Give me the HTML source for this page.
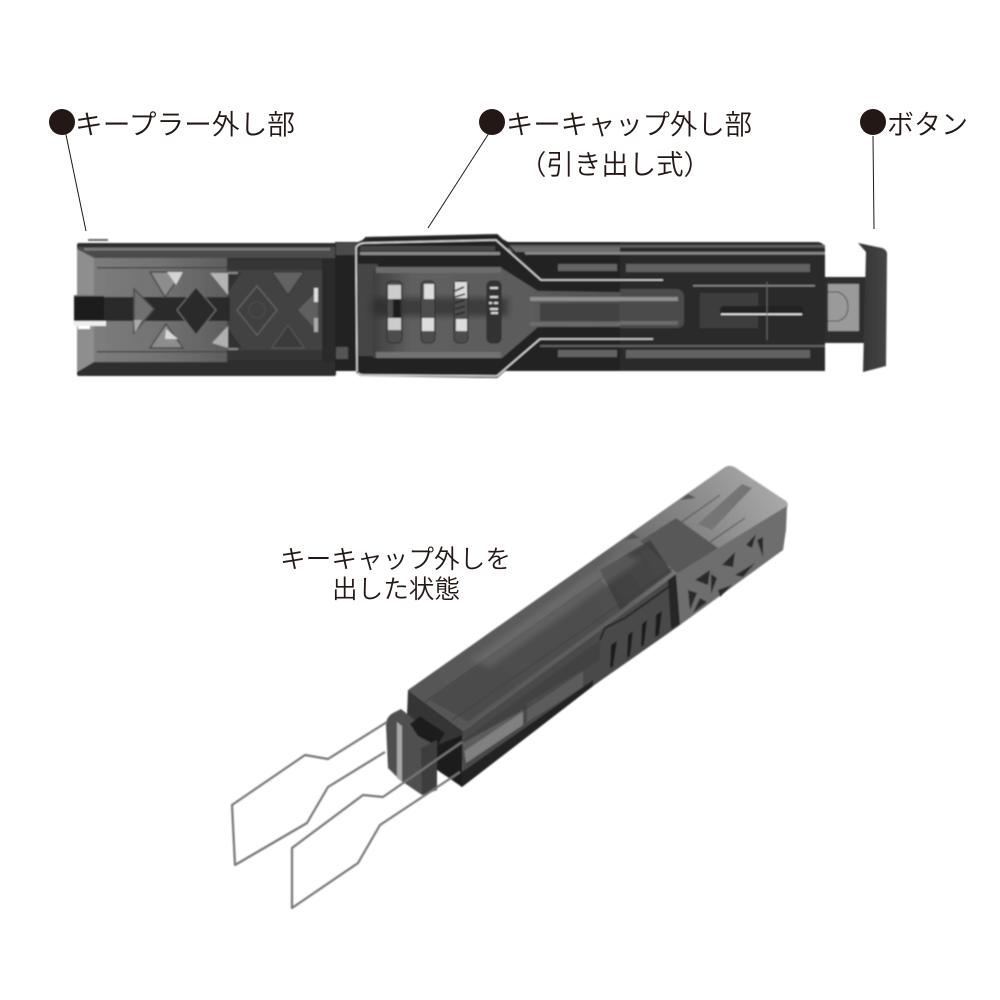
<!DOCTYPE html>
<html lang="ja"><head><meta charset="utf-8"><style>
html,body{margin:0;padding:0;background:#fff}
svg{display:block}
text{font-family:"Liberation Sans","Noto Sans CJK JP",sans-serif;font-weight:350;fill:#231815}
</style></head><body>
<svg width="1000" height="1000" viewBox="0 0 1000 1000" xmlns="http://www.w3.org/2000/svg">
<defs>
<filter id="b" x="-5%" y="-5%" width="110%" height="110%"><feGaussianBlur stdDeviation="0.7"/></filter>
<filter id="s" x="-20%" y="-20%" width="140%" height="140%"><feGaussianBlur stdDeviation="3"/></filter>
<linearGradient id="lp" x1="0" y1="0" x2="1" y2="0"><stop offset="0" stop-color="#7c7c7c"/><stop offset="0.5" stop-color="#727272"/><stop offset="1" stop-color="#5e5e5e"/></linearGradient>
<linearGradient id="mp" x1="0" y1="0" x2="1" y2="0"><stop offset="0" stop-color="#404040"/><stop offset="0.12" stop-color="#5e5e5e"/><stop offset="0.45" stop-color="#5c5c5c"/><stop offset="1" stop-color="#4e4e4e"/></linearGradient>
<linearGradient id="top" gradientUnits="userSpaceOnUse" x1="420" y1="710" x2="770" y2="480"><stop offset="0" stop-color="#565656"/><stop offset="0.55" stop-color="#5e5e5e"/><stop offset="0.72" stop-color="#7a7a7a"/><stop offset="1" stop-color="#a8a8a8"/></linearGradient>
<linearGradient id="cap" x1="0" y1="0" x2="1" y2="0"><stop offset="0" stop-color="#333"/><stop offset="1" stop-color="#454545"/></linearGradient>
</defs>

<!-- labels -->
<g fill="#231815"><circle cx="62" cy="122" r="13"/><circle cx="492" cy="122" r="13"/><circle cx="873" cy="122" r="13"/></g>
<g stroke="#231815" stroke-width="1" fill="none"><path d="M65 130L86 231"/><path d="M491 130L428 228"/><path d="M873 136L874 229"/></g>
<text x="75" y="134" font-size="27.4" textLength="220" lengthAdjust="spacingAndGlyphs">キープラー外し部</text>
<text x="506" y="134" font-size="27.4" textLength="246" lengthAdjust="spacingAndGlyphs">キーキャップ外し部</text>
<text x="519" y="174" font-size="27.4" textLength="192" lengthAdjust="spacingAndGlyphs">（引き出し式）</text>
<text x="887" y="134" font-size="27.4" textLength="81" lengthAdjust="spacingAndGlyphs">ボタン</text>
<text x="280" y="568" font-size="25.4" textLength="231" lengthAdjust="spacingAndGlyphs">キーキャップ外しを</text>
<text x="332" y="598" font-size="25.4" textLength="128" lengthAdjust="spacingAndGlyphs">出した状態</text>

<g filter="url(#b)">
<!-- TOP VIEW: left section -->
<rect x="88" y="239" width="20" height="2" fill="#666"/>
<rect x="77" y="243" width="259" height="133" rx="2" fill="#2e2e2e"/>
<rect x="77" y="247" width="259" height="11" fill="#4c4c4c"/>
<rect x="84" y="248" width="246" height="2.5" fill="#7c7c7c"/>
<path d="M77 249L94 258V362L77 372Z" fill="#8e8e8e"/>
<rect x="94" y="258" width="133" height="104" fill="url(#lp)"/>
<rect x="227" y="260" width="95" height="100" fill="#424242"/>
<rect x="227" y="260" width="95" height="10" fill="#343434"/>
<rect x="227" y="350" width="95" height="10" fill="#343434"/>
<rect x="322" y="258" width="14" height="104" fill="#2b2b2b"/>
<rect x="97" y="267" width="130" height="1.5" fill="#4a4a4a"/><rect x="97" y="351" width="130" height="1.5" fill="#4a4a4a"/>
<!-- notch and band -->
<rect x="74" y="296" width="30" height="25" fill="#1a1a1a"/>
<rect x="74" y="321" width="32" height="5" fill="#eee"/>
<rect x="78" y="326" width="12" height="3" fill="#fff"/>
<rect x="104" y="297" width="126" height="24" fill="#2c2c2c"/>
<rect x="74" y="295" width="60" height="1.2" fill="#777"/>
<!-- triangles left -->
<path d="M150 272L183 272L165 297Z" fill="#8d8d8d" stroke="#484848" stroke-width="1.4"/>
<path d="M167 272L183 272L176 285Z" fill="#d4d4d4"/>
<path d="M150 348L183 348L166 324Z" fill="#8d8d8d" stroke="#484848" stroke-width="1.4"/>
<path d="M166 329L178 339L165 339Z" fill="#d8d8d8"/>
<path d="M134 289L134 333L154 309Z" fill="#707070" stroke="#4a4a4a" stroke-width="1.4"/>
<path d="M134 320L142 320L135 333Z" fill="#aaa"/>
<path d="M210 273L228 273L228 295Z" fill="#b4b4b4"/>
<path d="M212 343L228 326L228 348Z" fill="#b0b0b0"/>
<path d="M196 287L216 310L196 335L177 310Z" fill="#2c2c2c" stroke="#6a6a6a" stroke-width="1.2"/>
<path d="M228 272L242 272L228 292ZM228 348L242 348L228 328Z" fill="#333"/>
<!-- right dark part pattern -->
<path d="M257 286L277 310L257 335L237 310Z" fill="#404040" stroke="#6c6c6c"/>
<circle cx="257" cy="310" r="8" fill="none" stroke="#4e4e4e"/>
<path d="M272 272L304 272L288 295Z" fill="#626262" stroke="#333"/>
<path d="M272 348L304 348L288 325Z" fill="#3a3a3a" stroke="#5c5c5c"/>
<path d="M318 290L318 332L298 310Z" fill="#5e5e5e"/>
<rect x="314" y="288" width="4" height="14" fill="#ddd"/><rect x="314" y="318" width="4" height="14" fill="#aaa"/>
<rect x="228" y="272" width="10" height="2" fill="#888"/><rect x="228" y="348" width="10" height="2" fill="#888"/>
<!-- middle body -->
<path d="M335 242H360L366 237L495 235L508 242H626V371H505L497 376H362L356 371H335Z" fill="#232323"/>
<rect x="336" y="243" width="22" height="12" fill="#4c4c4c"/>
<rect x="336" y="347" width="12" height="12" fill="#555"/>
<rect x="360" y="252" width="140" height="3" fill="#8a8a8a"/>
<rect x="360" y="246" width="135" height="5" fill="#444"/>
<rect x="358" y="264" width="20" height="92" fill="#444"/>
<path d="M373 272Q373 267 380 267L500 267L538 291L684 293V327L538 327L502 358L373 358Z" fill="url(#mp)"/>
<rect x="376" y="267" width="125" height="6" fill="#6c6c6c"/>
<rect x="376" y="352" width="125" height="6" fill="#727272"/>
<rect x="373" y="298" width="135" height="18" fill="#222" opacity=".55" filter="url(#s)"/>
<rect x="530" y="297" width="150" height="4" fill="#909090"/>
<rect x="540" y="303" width="130" height="18" fill="#424242"/>
<rect x="530" y="322" width="150" height="4" fill="#6c6c6c"/>
<rect x="676" y="293" width="8" height="35" rx="3" fill="#333"/>
<!-- slots -->
<g>
<rect x="387" y="281" width="15" height="62" rx="5" fill="#4e4e4e" stroke="#2c2c2c"/>
<rect x="421" y="281" width="14" height="62" rx="5" fill="#4e4e4e" stroke="#2c2c2c"/>
<rect x="454" y="281" width="14" height="62" rx="5" fill="#4e4e4e" stroke="#2c2c2c"/>
<rect x="487" y="281" width="14" height="62" rx="5" fill="#333" stroke="#2c2c2c"/>
<rect x="388" y="285" width="13" height="14" fill="#ccc"/><rect x="388" y="318" width="13" height="12" fill="#ccc"/>
<rect x="393" y="299" width="8" height="19" fill="#1c1c1c"/>
<rect x="424" y="284" width="10" height="15" fill="#ddd"/><rect x="422" y="318" width="12" height="13" fill="#ddd"/>
<rect x="455" y="282" width="12" height="16" fill="#ddd"/><rect x="456" y="319" width="11" height="12" fill="#ddd"/>
<path d="M455 291L464 287M455 297L465 294M455 303L465 300M455 309L465 306M455 315L465 312" stroke="#222" stroke-width="1.6"/>
<path d="M490 288h8M490 297h8M489 303h3M494 303h4M490 309h8M491 313h7" stroke="#ddd" stroke-width="2"/>
</g>
<!-- right side -->
<path d="M508 246H626V252H508ZM525 252H626V254H525Z" fill="#6c6c6c"/>
<path d="M620 242H818Q825 243 825 250V371H620Z" fill="#2b2b2b"/>
<rect x="510" y="245" width="315" height="2.5" fill="#5e5e5e"/>
<rect x="525" y="252" width="300" height="2.5" fill="#8a8a8a"/>
<rect x="558" y="264" width="59" height="7" fill="#646464"/>
<rect x="626" y="264" width="184" height="8" fill="#626262"/>
<rect x="558" y="350" width="59" height="7" fill="#646464"/>
<rect x="626" y="350" width="184" height="8" fill="#626262"/>
<rect x="540" y="345" width="285" height="2" fill="#606060"/>
<path d="M620 289H676Q684 289 684 298V322Q684 328 676 328H620Z" fill="#4c4c4c"/>
<rect x="620" y="297" width="58" height="4" fill="#909090"/>
<rect x="620" y="321" width="58" height="4" fill="#6c6c6c"/>
<rect x="693" y="285" width="122" height="1.5" fill="#8a8a8a"/>
<path d="M700 293H758V328H700Z" fill="#3c3c3c"/>
<rect x="720" y="306" width="83" height="10" rx="3" fill="#242424"/>
<rect x="721" y="313.5" width="81" height="1.6" fill="#eee"/>
<path d="M767 282V340" stroke="#666" fill="none"/>
<!-- button -->
<rect x="825" y="277" width="42" height="66" fill="#2e2e2e"/>
<rect x="828" y="284" width="31" height="47" fill="#9a9a9a"/>
<path d="M828 292H838Q848 296 848 307Q848 318 838 321H828" fill="none" stroke="#555"/>
<path d="M858 243L882 248Q888 250 887 256L886 366L863 372L866 252Z" fill="url(#cap)"/>

<!-- middle wire -->
<path d="M365 238L497 235L541 278H663M357 373L356 248Q357 242 364 241L496 240L541 282H663M358 373Q360 375 364 375L497 377L540 338H653" fill="none" stroke="#262626" stroke-width="2"/>
<path d="M357 372L356 248Q357 244 364 243L496 240L541 280H663M358 373Q360 375 364 375L497 376L540 339H653" fill="none" stroke="#dcdcdc" stroke-width="1.5"/>

<!-- LOWER OBJECT -->
<!-- top face -->
<path d="M408 690L725 467Q730 464 736 468L786 501Q789 504 787 508L676 574L463 731Z" fill="url(#top)"/>
<path d="M425 702L720 495M452 720L745 518" stroke="#333" stroke-width="1.2" fill="none" opacity=".55"/>
<path d="M742 484L752 488L712 530L698 524Z" fill="#747474"/>
<path d="M640 541L676 518L718 548L678 574Z" fill="#585858"/>
<path d="M600 570L650 540L672 572L620 610Z" fill="#383838" opacity=".75"/>
<path d="M430 700L600 580L628 605L468 722Z" fill="#404040" opacity=".5"/>
<path d="M470 660L620 552L640 560L490 668Z" fill="#888" opacity=".3" filter="url(#s)"/>
<!-- bumps on top edge -->
<path d="M625 540L632 533L640 538ZM680 500L688 494L696 498Z" fill="#555"/>
<!-- side face rear -->
<path d="M676 574L787 506L786 530L783 550L680 625Z" fill="#6e6e6e"/>
<!-- side face main -->
<path d="M463 731L676 574L680 625L593 686L462 787Z" fill="#4a4a4a"/>
<path d="M462 772L593 680L593 686L462 787Z" fill="#232323"/>
<path d="M463 743L523 710L523 725L466 763Z" fill="#808080"/>
<path d="M527 703L583 670L583 687L527 722Z" fill="#5c5c5c"/>
<path d="M463 740L600 640L600 660L463 752Z" fill="#393939" opacity=".5"/>
<!-- X pattern -->
<g fill="#2a2a2a">
<path d="M695 580L710 570L708 585Z"/><path d="M722 565L735 552L733 567Z"/><path d="M757 540L763 537L763 557Z"/>
<path d="M688 590L697 593L690 610Z"/><path d="M693 613L707 602L700 598Z"/><path d="M718 590L732 585L720 597Z"/>
<path d="M735 575L755 563L743 577Z"/><path d="M746 545L756 534L752 548Z"/><path d="M711 574L717 578L711 594Z"/>
</g>
<path d="M676 574L680 624L671 629L668 580Z" fill="#252525"/>
<!-- slats -->
<path d="M611 645L617 641L613 667L610 668ZM628 635L633 631L630 656L627 658ZM642 624L647 620L644 645L641 647ZM656 615L662 611L659 635L655 637Z" fill="#1c1c1c"/>
<path d="M600 640L605 628L625 618L670 586" stroke="#262626" stroke-width="2" fill="none"/>
<!-- front -->
<path d="M408 690L463 731L462 787L440 772L420 745L407 715Z" fill="#363636"/>
<!-- cap -->
<path d="M386 725Q386 716 395 712L401 709L437 738L437 790L422 795L400 780L388 768Z" fill="#505050"/>
<path d="M397 722V778L402 782V726Z" fill="#a8a8a8"/>
<path d="M410 724L420 716L445 733L437 746L418 736Z" fill="#1e1e1e"/>
<path d="M421 748L437 740V790L422 795Z" fill="#3e3e3e"/>
<path d="M437 745L462 735L462 787L450 778L437 770Z" fill="#1c1c1c"/>
<!-- fork wires -->
<g fill="none" stroke="#757575" stroke-width="2.2" stroke-linejoin="round">
<path d="M387 722L328 759L305 755L232 805L235 865L307 823L328 787L385 752"/>
<path d="M462 742L383 797L363 795L292 848L292 908L358 863L380 825L460 772"/>
</g>
</g>
</svg>
</body></html>
